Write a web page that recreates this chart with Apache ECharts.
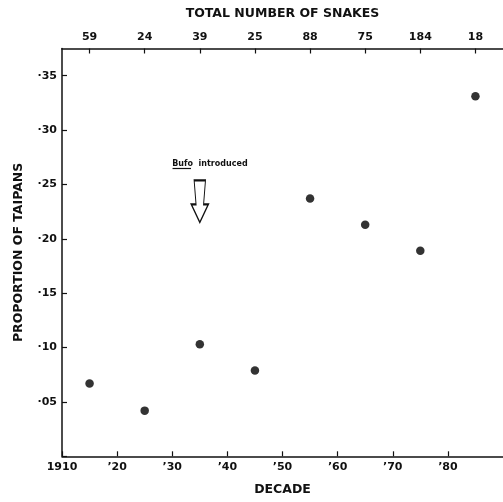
<!DOCTYPE html>
<html>
<head>
    <meta charset="utf-8" />
    <script src="https://cdn.jsdelivr.net/npm/echarts@6.0.0/dist/echarts.min.js"></script>
    <style>
        body { margin: 0; background: #fff; }
        #main { width: 503px; height: 502px; }
    </style>
</head>
<body>
    <div id="main"></div>
<script type="text/javascript">
    // decade mid-points and proportion of taipans
    var decades = [1915, 1925, 1935, 1945, 1955, 1965, 1975, 1985];
    var proportions = [0.067, 0.042, 0.103, 0.079, 0.237, 0.213, 0.189, 0.331];
    // total number of snakes per decade (top axis)
    var totals = [59, 24, 39, 25, 88, 75, 184, 18];
    // bottom axis tick positions
    var decadeTicks = [1910, 1920, 1930, 1940, 1950, 1960, 1970, 1980];
    // annotation
    var bufoYear = 1935;

    var font = 'DejaVu Sans';
    var ink = '#111';

    var chart = echarts.init(document.getElementById('main'));

    var option = {
        animation: false,
        backgroundColor: '#fff',
        grid: {
            left: 62,
            right: 0,
            top: 48.5,
            bottom: 45.7
        },
        xAxis: [
            {
                type: 'value',
                position: 'bottom',
                min: 1910,
                max: 1990,
                interval: 10,
                name: 'DECADE',
                nameLocation: 'middle',
                nameGap: 27,
                nameTextStyle: { color: ink, fontFamily: font, fontSize: 12.5, fontWeight: 'bold' },
                axisLine: { lineStyle: { color: ink, width: 1.5 } },
                axisTick: { inside: true, length: 5, customValues: decadeTicks, lineStyle: { color: ink, width: 1.2 } },
                axisLabel: {
                    color: ink, fontFamily: font, fontSize: 11, fontWeight: 'bold', margin: 5,
                    customValues: decadeTicks,
                    formatter: function (v) {
                        if (v === 1910) return '1910';
                        return '\u2019' + String(v).slice(2);
                    }
                },
                splitLine: { show: false }
            },
            {
                type: 'value',
                position: 'top',
                min: 1910,
                max: 1990,
                name: 'TOTAL NUMBER OF SNAKES',
                nameLocation: 'middle',
                nameGap: 28,
                nameTextStyle: { color: ink, fontFamily: font, fontSize: 12.5, fontWeight: 'bold' },
                axisLine: { lineStyle: { color: ink, width: 1.5 } },
                axisTick: { inside: true, length: 5, customValues: decades, lineStyle: { color: ink, width: 1.2 } },
                axisLabel: {
                    color: ink, fontFamily: font, fontSize: 11, fontWeight: 'bold', margin: 6,
                    customValues: decades,
                    formatter: function (v) {
                        var i = decades.indexOf(Math.round(v));
                        return i >= 0 ? String(totals[i]) : '';
                    }
                },
                splitLine: { show: false }
            }
        ],
        yAxis: {
            type: 'value',
            min: 0,
            max: 0.375,
            interval: 0.05,
            name: 'PROPORTION OF TAIPANS',
            nameLocation: 'middle',
            nameGap: 37,
            nameTextStyle: { color: ink, fontFamily: font, fontSize: 12.5, fontWeight: 'bold' },
            axisLine: { lineStyle: { color: ink, width: 1.5 } },
            axisTick: { inside: true, length: 5, lineStyle: { color: ink, width: 1.2 } },
            axisLabel: {
                color: ink, fontFamily: font, fontSize: 11, fontWeight: 'bold', margin: 5,
                showMaxLabel: false,
                formatter: function (v) {
                    var n = Math.round(v * 100);
                    if (n === 0 || n > 36) return '';
                    return '\u00b7' + (n < 10 ? '0' + n : String(n));
                }
            },
            splitLine: { show: false }
        },
        series: [
            {
                type: 'scatter',
                xAxisIndex: 0,
                symbol: 'circle',
                symbolSize: 8.5,
                itemStyle: { color: '#000' },
                data: decades.map(function (d, i) { return [d, proportions[i]]; }),
                markPoint: {
                    silent: true,
                    data: [
                        {
                            coord: [bufoYear - 5, 0.269],
                            symbol: 'circle',
                            symbolSize: 0,
                            label: {
                                show: true,
                                position: 'right',
                                distance: 0,
                                color: ink,
                                fontFamily: font,
                                fontSize: 8,
                                fontWeight: 'bold',
                                formatter: 'Bufo  introduced'
                            }
                        },
                        {
                            coord: [bufoYear, 0.2344],
                            symbol: 'path://M3,0 L15,0 L13,24 L18,24 L9,42 L0,24 L5,24 Z',
                            symbolSize: [17, 42],
                            itemStyle: { color: '#fff', borderColor: ink, borderWidth: 1.5 },
                            label: { show: false }
                        }
                    ]
                },
                markLine: {
                    silent: true,
                    symbol: 'none',
                    label: { show: false },
                    lineStyle: { color: ink, width: 1.2, type: 'solid' },
                    data: [
                        [{ coord: [bufoYear - 4.95, 0.2645] }, { coord: [bufoYear - 1.6, 0.2645] }]
                    ]
                }
            }
        ]
    };

    chart.setOption(option);
</script>
</body>
</html>
